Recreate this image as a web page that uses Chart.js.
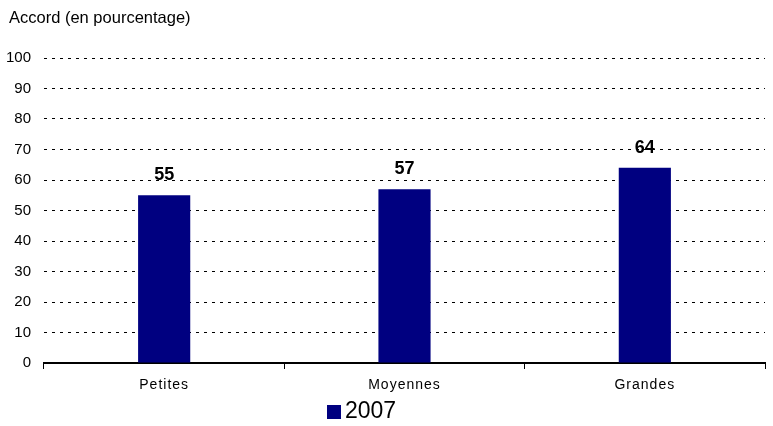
<!DOCTYPE html>
<html>
<head>
<meta charset="utf-8">
<script src="https://cdn.jsdelivr.net/npm/chart.js@4/dist/chart.umd.min.js"></script>
<style>
  body { margin: 0; background: #fff; }
  #wrap { width: 773px; height: 426px; }
</style>
</head>
<body>
<div id="wrap"><canvas id="chart"></canvas></div>
<script>
const categories = ["Petites", "Moyennes", "Grandes"];
const values2007 = [55, 57, 64];
const seriesLabel = "2007";
const yTicks = [0, 10, 20, 30, 40, 50, 60, 70, 80, 90, 100];
const titleText = "Accord (en pourcentage)";

const navy = "#000080";

// labels above bars, title and legend drawn by hand
const extras = {
    id: 'extras',
    afterUpdate(chart) {
        // spaced-out category labels like the original
        const x = chart.scales.x;
        if (!x._spaced) {
            const orig = x.drawLabels;
            x.drawLabels = function (area) {
                this.ctx.save();
                this.ctx.letterSpacing = "1px";
                orig.call(this, area);
                this.ctx.restore();
            };
            x._spaced = true;
        }
    },
    afterDatasetsDraw(chart) {
        const ctx = chart.ctx;
        const meta = chart.getDatasetMeta(0);
        ctx.save();
        ctx.fillStyle = "#000";
        ctx.font = "bold 18px 'Liberation Sans', Arial, sans-serif";
        ctx.textAlign = "center";
        ctx.textBaseline = "alphabetic";
        meta.data.forEach((bar, i) => {
            ctx.fillText(String(values2007[i]), bar.x, bar.y - 15);
        });

        ctx.font = "16.5px 'Liberation Sans', Arial, sans-serif";
        ctx.textAlign = "left";
        ctx.textBaseline = "middle";
        ctx.fillText(titleText, 9, 18);

        ctx.fillStyle = navy;
        ctx.fillRect(327, 405, 14, 14);
        ctx.fillStyle = "#000";
        ctx.font = "23px 'Liberation Sans', Arial, sans-serif";
        ctx.fillText(seriesLabel, 345, 412);
        ctx.restore();
    }
};

new Chart(document.getElementById('chart'), {
    type: 'bar',
    data: {
        labels: categories,
        datasets: [{
            label: seriesLabel,
            data: values2007,
            backgroundColor: navy,
            barPercentage: 0.217,
            categoryPercentage: 1.0
        }]
    },
    options: {
        responsive: true,
        maintainAspectRatio: false,
        animation: false,
        layout: { padding: { top: 58, right: 8, left: 0, bottom: 0 } },
        plugins: {
            legend: { display: false },
            tooltip: { enabled: false }
        },
        scales: {
            x: {
                afterFit(scale) { scale.height = 63; },
                grid: {
                    offset: true,
                    drawOnChartArea: false,
                    drawTicks: true,
                    tickLength: 6,
                    color: "#000",
                    lineWidth: 1
                },
                border: { display: true, color: "#000", width: 2 },
                ticks: {
                    color: "#000",
                    padding: 8,
                    font: { family: "'Liberation Sans', Arial, sans-serif", size: 14 }
                }
            },
            y: {
                min: 0,
                max: 100,
                afterFit(scale) { scale.width = 44; },
                afterBuildTicks(scale) { scale.ticks = yTicks.map(v => ({ value: v })); },
                border: { display: false, dash: [3, 5] },
                grid: {
                    drawTicks: false,
                    color: (c) => c.tick && c.tick.value === 0 ? "rgba(0,0,0,0)" : "#000",
                    lineWidth: 1
                },
                ticks: {
                    color: "#000",
                    padding: 13,
                    font: { family: "'Liberation Sans', Arial, sans-serif", size: 15 }
                }
            }
        }
    },
    plugins: [extras]
});
</script>
</body>
</html>
